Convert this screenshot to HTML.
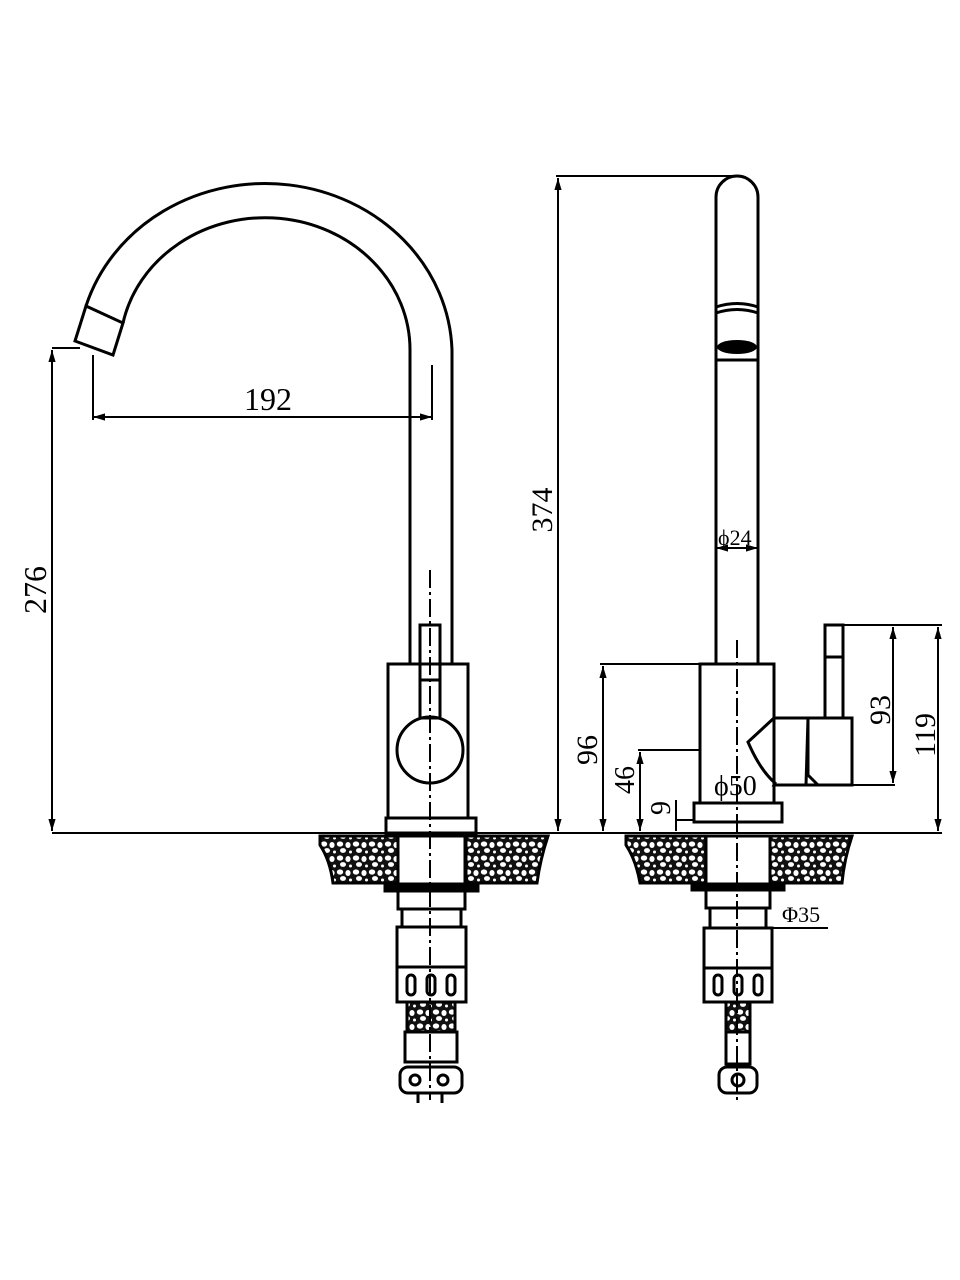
<!DOCTYPE html>
<html><head><meta charset="utf-8"><style>
html,body{margin:0;padding:0;background:#fff}
svg{display:block}
text{font-family:"Liberation Serif",serif;fill:#000}
</style></head><body>
<svg width="960" height="1280" viewBox="0 0 960 1280" xmlns="http://www.w3.org/2000/svg">
<defs>
<pattern id="st" width="16" height="14" patternUnits="userSpaceOnUse">
<rect width="16" height="14" fill="#111"/>
<ellipse cx="4" cy="4" rx="3.2" ry="2.6" fill="#fff"/>
<ellipse cx="12" cy="5" rx="2.6" ry="3" fill="#fff"/>
<ellipse cx="7" cy="10.5" rx="3" ry="2.4" fill="#fff"/>
<ellipse cx="14.5" cy="12" rx="1.5" ry="1.5" fill="#fff"/>
</pattern>
<marker id="ar" viewBox="0 0 10 10" refX="10" refY="5" markerWidth="8" markerHeight="6" orient="auto-start-reverse"><path d="M0,2 L10,5 L0,8z" fill="#000"/></marker>
</defs>
<g fill="none" stroke="#000" stroke-width="3">
<path d="M452,664 V350 A187,172 0 0 0 86,306"/>
<path d="M410,664 V350 A145,132 0 0 0 123,323"/>
<path d="M86,306 L123,323 L113,355 L75,341 Z"/>
<rect x="388" y="664" width="80" height="154"/>
<rect x="420" y="625" width="20" height="55"/>
<rect x="420" y="680" width="20" height="38"/>
<circle cx="430" cy="750" r="33"/>
<rect x="386" y="818" width="90" height="15"/>
<path d="M320,836 H398 V883 H333 Q330,860 320,845 Z" fill="url(#st)"/>
<path d="M466,836 H548 Q540,860 537,883 H466 Z" fill="url(#st)"/>
<rect x="398" y="836" width="67" height="49"/>
<rect x="385" y="884" width="93" height="7" fill="#000"/>
<rect x="398" y="891" width="67" height="18"/>
<rect x="402" y="909" width="59" height="18"/>
<rect x="397" y="927" width="69" height="40"/>
<rect x="397" y="967" width="69" height="35"/>
<rect x="407" y="975" width="8" height="20" rx="4"/><rect x="427" y="975" width="8" height="20" rx="4"/><rect x="447" y="975" width="8" height="20" rx="4"/>
<rect x="407" y="1002" width="48" height="30" fill="url(#st)"/>
<rect x="405" y="1032" width="52" height="30"/>
<rect x="400" y="1067" width="62" height="26" rx="8"/>
<circle cx="415" cy="1080" r="5"/><circle cx="443" cy="1080" r="5"/>
<line x1="418" y1="1093" x2="418" y2="1103"/><line x1="442" y1="1093" x2="442" y2="1103"/>
</g>
<g stroke="#000" stroke-width="2" fill="none">
<line x1="430" y1="570" x2="430" y2="1100" stroke-dasharray="18,4,3,4"/>
<line x1="52" y1="833" x2="555" y2="833"/>
<line x1="52" y1="348" x2="80" y2="348"/>
<line x1="52" y1="350" x2="52" y2="831" marker-start="url(#ar)" marker-end="url(#ar)"/>
<line x1="93" y1="355" x2="93" y2="420"/>
<line x1="432" y1="365" x2="432" y2="420"/>
<line x1="93" y1="417" x2="432" y2="417" marker-start="url(#ar)" marker-end="url(#ar)"/>
</g>
<text x="268" y="410" font-size="32" text-anchor="middle">192</text>
<text transform="translate(46,590) rotate(-90)" font-size="32" text-anchor="middle">276</text>

<g fill="none" stroke="#000" stroke-width="3">
<path d="M716,664 V197 A21,21 0 0 1 758,197 V664"/>
<path d="M716,307 Q737,300 758,307"/><path d="M716,313 Q737,306 758,313"/>
<line x1="716" y1="360" x2="758" y2="360"/>
<rect x="700" y="664" width="74" height="139"/>
<path d="M774,718 H852 V785 H774 L775,783 Q760,770 748,742 L774,718"/>
<path d="M808,718 L806,785 M808,718 V775 L818,785"/>
<rect x="825" y="625" width="18" height="32"/>
<rect x="825" y="657" width="18" height="61"/>
<rect x="694" y="803" width="88" height="19"/>
<path d="M626,836 H706 V883 H640 Q636,860 626,845 Z" fill="url(#st)"/>
<path d="M770,836 H852 Q844,860 842,883 H770 Z" fill="url(#st)"/>
<rect x="706" y="836" width="64" height="49"/>
<rect x="692" y="884" width="92" height="6" fill="#000"/>
<rect x="706" y="890" width="64" height="18"/>
<rect x="710" y="908" width="56" height="20"/>
<rect x="704" y="928" width="68" height="40"/>
<rect x="704" y="968" width="68" height="34"/>
<rect x="714" y="975" width="8" height="20" rx="4"/><rect x="734" y="975" width="8" height="20" rx="4"/><rect x="754" y="975" width="8" height="20" rx="4"/>
<rect x="726" y="1002" width="24" height="30" fill="url(#st)"/>
<rect x="726" y="1032" width="24" height="32"/>
<rect x="719" y="1067" width="38" height="26" rx="8"/>
<circle cx="738" cy="1080" r="6"/>
</g>
<ellipse cx="737" cy="347" rx="20" ry="7" fill="#000"/>
<g stroke="#000" stroke-width="2" fill="none">
<line x1="737" y1="640" x2="737" y2="1100" stroke-dasharray="18,4,3,4"/>
<line x1="556" y1="176" x2="735" y2="176"/>
<line x1="558" y1="178" x2="558" y2="831" marker-start="url(#ar)" marker-end="url(#ar)"/>
<line x1="555" y1="833" x2="942" y2="833"/>
<line x1="600" y1="664" x2="700" y2="664"/>
<line x1="603" y1="666" x2="603" y2="831" marker-start="url(#ar)" marker-end="url(#ar)"/>
<line x1="638" y1="750" x2="700" y2="750"/>
<line x1="640" y1="752" x2="640" y2="831" marker-start="url(#ar)" marker-end="url(#ar)"/>
<line x1="676" y1="800" x2="676" y2="831"/>
<line x1="676" y1="820" x2="694" y2="820"/>
<line x1="716" y1="548" x2="758" y2="548" marker-start="url(#ar)" marker-end="url(#ar)"/>
<line x1="825" y1="625" x2="942" y2="625"/>
<line x1="852" y1="785" x2="895" y2="785"/>
<line x1="893" y1="627" x2="893" y2="783" marker-start="url(#ar)" marker-end="url(#ar)"/>
<line x1="938" y1="627" x2="938" y2="831" marker-start="url(#ar)" marker-end="url(#ar)"/>
<line x1="772" y1="928" x2="828" y2="928"/>
</g>
<text transform="translate(552,510) rotate(-90)" font-size="30" text-anchor="middle">374</text>
<text transform="translate(597,750) rotate(-90)" font-size="30" text-anchor="middle">96</text>
<text transform="translate(634,780) rotate(-90)" font-size="28" text-anchor="middle">46</text>
<text transform="translate(670,808) rotate(-90)" font-size="28" text-anchor="middle">9</text>
<text x="714" y="795" font-size="28">ϕ50</text>
<text x="718" y="545" font-size="22">ϕ24</text>
<text transform="translate(890,710) rotate(-90)" font-size="30" text-anchor="middle">93</text>
<text transform="translate(935,735) rotate(-90)" font-size="30" text-anchor="middle">119</text>
<text x="782" y="922" font-size="22">Φ35</text>
</svg>
</body></html>
